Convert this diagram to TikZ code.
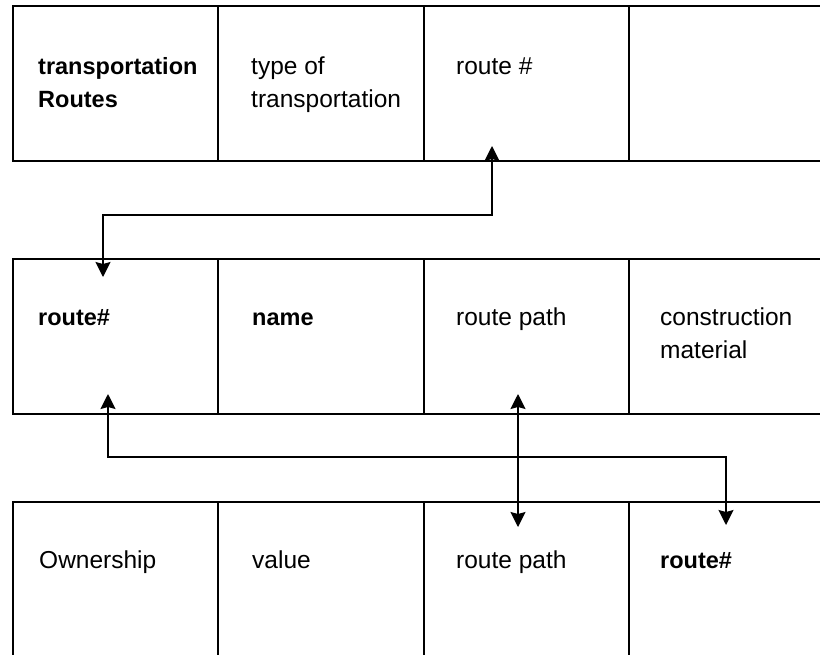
\documentclass[tikz,border=0pt]{standalone}
\usepackage{fontspec}
\setmainfont{Liberation Sans}
\usetikzlibrary{arrows.meta,calc}
\begin{document}
\begin{tikzpicture}[x=1pt,y=-1pt,
  cell/.style={draw, line width=1.5pt, minimum height=155pt,
    anchor=north west, inner sep=0pt, outer sep=0pt},
  lbl/.style={anchor=base west, inner sep=0pt, align=left,
    font=\fontsize{24.5}{33}\selectfont},
  bold/.style={lbl, font=\fontsize{23.5}{33}\selectfont\bfseries},
  link/.style={line width=1.5pt,
    {Stealth[length=15pt,width=15pt,inset=2pt]}-{Stealth[length=15pt,width=15pt,inset=2pt]}}]
\clip (0,0) rectangle (820,654);

% three tables, four cells each
\foreach \r/\y in {1/6,2/259,3/502}{
  \foreach \c/\x/\w in {1/13/205,2/218/206,3/424/205,4/629/206}{
    \node[cell, minimum width=\w pt] (r\r c\c) at (\x,\y) {};
  }
}

% row 1 (base anchor sits on the last line)
\node[bold] (t11) at ($(r1c1.north west)+(25,101)$) {transportation\\Routes};
\node[lbl]  (t12) at ($(r1c2.north west)+(33,101)$) {type of\\transportation};
\node[lbl]  (t13) at ($(r1c3.north west)+(32,68)$) {route \#};

% row 2
\node[bold] (t21) at ($(r2c1.north west)+(25,66)$) {route\#};
\node[bold] (t22) at ($(r2c2.north west)+(34,66)$) {name};
\node[lbl]  (t23) at ($(r2c3.north west)+(32,66)$) {route path};
\node[lbl]  (t24) at ($(r2c4.north west)+(31,99)$) {construction\\material};

% row 3
\node[lbl]  (t31) at ($(r3c1.north west)+(26,66)$) {Ownership};
\node[lbl]  (t32) at ($(r3c2.north west)+(34,66)$) {value};
\node[lbl]  (t33) at ($(r3c3.north west)+(32,66)$) {route path};
\node[bold] (t34) at ($(r3c4.north west)+(31,66)$) {route\#};

% link end points inside the cells
\coordinate (a1) at ($(r1c3.south west)+(68,-15)$);
\coordinate (b1) at ($(r2c1.north west)+(90,18)$);
\coordinate (a2) at ($(r2c1.south west)+(95,-20)$);
\coordinate (b2) at ($(r3c4.north west)+(97,23)$);
\coordinate (a3) at ($(r2c3.south west)+(94,-20)$);
\coordinate (b3) at ($(r3c3.north west)+(94,25)$);

\draw[link] (a1) -- ++(0,69) -| (b1);
\draw[link] (a2) -- ++(0,63) -| (b2);
\draw[link] (a3) -- (b3);
\end{tikzpicture}
\end{document}
